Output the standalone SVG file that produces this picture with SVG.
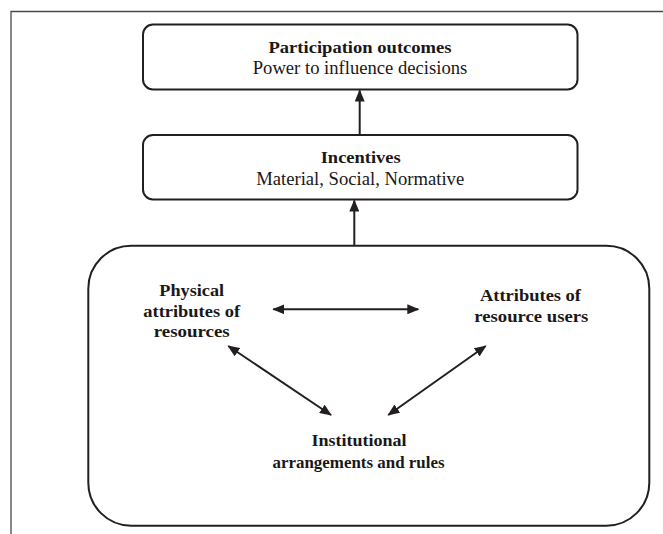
<svg xmlns="http://www.w3.org/2000/svg" width="663" height="534" viewBox="0 0 663 534">
<style>
.box{fill:#fff;stroke:#231f20;stroke-width:2}
.t{font-family:"Liberation Serif","Times New Roman",serif;font-size:18px;fill:#1a1718;text-anchor:middle}
.b{font-weight:bold;font-size:17px}
.c{stroke:#231f20;stroke-width:2;fill:none}
</style>
<defs>
<marker id="ah" markerUnits="userSpaceOnUse" viewBox="0 0 12 10" refX="11" refY="5" markerWidth="12" markerHeight="10" orient="auto-start-reverse">
<path d="M0,0 L12,5 L0,10 Z" fill="#231f20"/>
</marker>
</defs>
<rect width="663" height="534" fill="#fff"/>
<path d="M11,534 V11.5 H663" fill="none" stroke="#4a4a4a" stroke-width="1.3"/>
<g id="outcomes">
<rect class="box" x="143" y="24.5" width="434.5" height="65" rx="10"/>
<text class="t b" x="360" y="52.5" textLength="183" lengthAdjust="spacingAndGlyphs">Participation outcomes</text>
<text class="t" x="360" y="74.3" textLength="214.5" lengthAdjust="spacingAndGlyphs">Power to influence decisions</text>
</g>
<g id="incentives">
<rect class="box" x="143" y="135" width="434.5" height="64.5" rx="10"/>
<text class="t b" x="360.7" y="163.3" textLength="80" lengthAdjust="spacingAndGlyphs">Incentives</text>
<text class="t" x="360.2" y="185" textLength="208" lengthAdjust="spacingAndGlyphs">Material, Social, Normative</text>
</g>
<g id="system">
<rect class="box" x="88.3" y="245.7" width="561" height="280" rx="43"/>
</g>
<g id="physical">
<text class="t b" x="191.7" y="296" textLength="64.7" lengthAdjust="spacingAndGlyphs">Physical</text>
<text class="t b" x="191.7" y="316.7" textLength="96.7" lengthAdjust="spacingAndGlyphs">attributes of</text>
<text class="t b" x="191.7" y="337.3" textLength="76" lengthAdjust="spacingAndGlyphs">resources</text>
</g>
<g id="users">
<text class="t b" x="530.5" y="300.5" textLength="101" lengthAdjust="spacingAndGlyphs">Attributes of</text>
<text class="t b" x="531.3" y="322.3" textLength="114" lengthAdjust="spacingAndGlyphs">resource users</text>
</g>
<g id="institutional">
<text class="t b" x="359" y="446" textLength="95" lengthAdjust="spacingAndGlyphs">Institutional</text>
<text class="t b" x="358.5" y="468" textLength="172" lengthAdjust="spacingAndGlyphs">arrangements and rules</text>
</g>
<g id="connectors">
<line class="c" x1="359.7" y1="135" x2="359.7" y2="90.5" marker-end="url(#ah)"/>
<line class="c" x1="354.3" y1="245.7" x2="354.3" y2="200.5" marker-end="url(#ah)"/>
<line class="c" x1="273.3" y1="309.3" x2="418.3" y2="309.3" marker-start="url(#ah)" marker-end="url(#ah)"/>
<line class="c" x1="228.3" y1="346" x2="331" y2="415" marker-start="url(#ah)" marker-end="url(#ah)"/>
<line class="c" x1="485.7" y1="346" x2="388.3" y2="415" marker-start="url(#ah)" marker-end="url(#ah)"/>
</g>
</svg>
